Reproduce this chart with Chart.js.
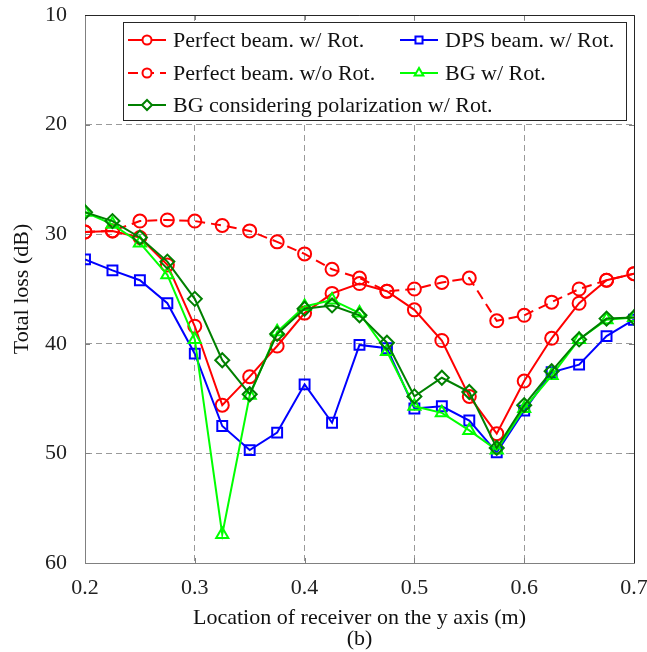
<!DOCTYPE html>
<html>
<head>
<meta charset="utf-8">
<script src="https://cdn.jsdelivr.net/npm/chart.js@4/dist/chart.umd.min.js"></script>
<style>
  html, body { margin: 0; padding: 0; background: #fff; }
  #wrap { width: 647px; height: 652px; }
</style>
</head>
<body>
<div id="wrap"><canvas id="graph"></canvas></div>
<script>
const positions = [0.2, 0.225, 0.25, 0.275, 0.3, 0.325, 0.35, 0.375, 0.4, 0.425, 0.45,
                   0.475, 0.5, 0.525, 0.55, 0.575, 0.6, 0.625, 0.65, 0.675, 0.7];
const xTicks = [0.2, 0.3, 0.4, 0.5, 0.6, 0.7];
const yTicks = [10, 20, 30, 40, 50, 60];

const perfectRot   = [29.8, 29.7, 30.3, 32.8, 38.4, 45.6, 43.0, 40.2, 37.2, 35.4, 34.5, 35.2, 36.9, 39.7, 44.8, 48.2, 43.4, 39.5, 36.3, 34.2, 33.6];
const perfectNoRot = [29.8, 29.7, 28.8, 28.7, 28.8, 29.2, 29.7, 30.7, 31.8, 33.2, 34.0, 35.2, 35.0, 34.4, 34.0, 37.9, 37.4, 36.2, 35.0, 34.2, 33.6];
const dpsRot       = [32.3, 33.3, 34.2, 36.3, 40.9, 47.5, 49.7, 48.1, 43.7, 47.2, 40.1, 40.4, 45.9, 45.7, 47.0, 49.9, 46.1, 42.6, 41.9, 39.3, 37.8];
const bgRot        = [28.0, 29.1, 30.8, 33.7, 39.6, 57.4, 44.7, 38.9, 36.6, 36.0, 37.2, 40.7, 45.7, 46.3, 47.9, 49.7, 45.9, 42.9, 39.6, 37.8, 37.6];
const bgPolRot     = [28.0, 28.8, 30.3, 32.5, 35.9, 41.5, 44.6, 39.1, 36.8, 36.5, 37.4, 39.9, 44.8, 43.1, 44.4, 49.5, 45.6, 42.5, 39.6, 37.7, 37.6];

const serif = "'Liberation Serif', 'Times New Roman', serif";
Chart.defaults.font.family = serif;
Chart.defaults.font.size = 22;
Chart.defaults.color = '#222';

function series(label, values, color, style, order, dash) {
    return {
        label: label,
        data: positions.map((x, i) => ({ x: x, y: values[i] })),
        borderColor: color,
        backgroundColor: 'rgba(0,0,0,0)',
        pointBorderColor: color,
        pointBackgroundColor: 'rgba(0,0,0,0)',
        pointStyle: style,
        pointRadius: style === 'circle' ? 6.5 : 7,
        pointBorderWidth: 2,
        borderWidth: 2,
        borderDash: dash || [],
        tension: 0,
        order: order
    };
}

// MATLAB-like frame, inward ticks and legend box inside the axes
const framePlugin = {
    id: 'frame',
    afterDraw(chart) {
        const c = chart.ctx, a = chart.chartArea;
        const xs = chart.scales.x, ys = chart.scales.y;
        c.save();
        c.lineWidth = 1;
        c.strokeStyle = '#808080';
        c.beginPath();
        xTicks.forEach(v => {
            const px = Math.round(xs.getPixelForValue(v)) + 0.5;
            c.moveTo(px, a.bottom); c.lineTo(px, a.bottom - 5);
            c.moveTo(px, a.top); c.lineTo(px, a.top + 5);
        });
        yTicks.forEach(v => {
            const py = Math.round(ys.getPixelForValue(v)) + 0.5;
            c.moveTo(a.left, py); c.lineTo(a.left + 5, py);
            c.moveTo(a.right, py); c.lineTo(a.right - 5, py);
        });
        c.stroke();
        c.strokeStyle = '#262626';
        c.beginPath();
        c.moveTo(a.left, a.top + 0.5); c.lineTo(a.right + 0.5, a.top + 0.5);
        c.lineTo(a.right + 0.5, a.bottom);
        c.stroke();

        // legend
        const bx = 123, by = 22, bw = 503, bh = 98;
        c.fillStyle = '#fff';
        c.fillRect(bx, by, bw, bh);
        c.strokeStyle = '#262626';
        c.lineWidth = 1;
        c.strokeRect(bx + 0.5, by + 0.5, bw, bh);
        const slots = [[128, 40], [128, 73], [400, 40], [400, 73], [128, 105]];
        c.font = '22px ' + serif;
        c.textBaseline = 'middle';
        chart.data.datasets.forEach((ds, k) => {
            const [lx, ly] = slots[k];
            c.strokeStyle = ds.borderColor;
            c.lineWidth = 2;
            c.setLineDash(ds.borderDash);
            c.beginPath();
            c.moveTo(lx, ly); c.lineTo(lx + 38, ly);
            c.stroke();
            c.setLineDash([]);
            c.fillStyle = '#fff';
            Chart.helpers.drawPoint(c, {
                pointStyle: ds.pointStyle, radius: ds.pointRadius - 2, borderWidth: 2, rotation: 0
            }, lx + 19, ly);
            c.fillStyle = '#111';
            c.fillText(ds.label, lx + 45, ly + 1);
        });
        c.restore();
    }
};

var ctx = document.getElementById('graph').getContext('2d');
var myGraph = new Chart(ctx, {
    type: 'line',
    data: {
        datasets: [
            series('Perfect beam. w/ Rot.', perfectRot, '#ff0000', 'circle', 4),
            series('Perfect beam. w/o Rot.', perfectNoRot, '#ff0000', 'circle', 2, [10, 6]),
            series('DPS beam. w/ Rot.', dpsRot, '#0000ff', 'rect', 3),
            series('BG w/ Rot.', bgRot, '#00ff00', 'triangle', 1),
            series('BG considering polarization w/ Rot.', bgPolRot, '#008000', 'rectRot', 0)
        ]
    },
    options: {
        responsive: true,
        maintainAspectRatio: false,
        animation: false,
        layout: {
            padding: { top: 15, right: 13, left: 0, bottom: 0 }
        },
        plugins: {
            legend: { display: false },
            title: { display: false },
            tooltip: { enabled: false }
        },
        scales: {
            x: {
                type: 'linear',
                min: 0.2,
                max: 0.7,
                afterBuildTicks: s => { s.ticks = xTicks.map(v => ({ value: v })); },
                afterFit: s => { s.height = 89; s.paddingLeft = 0; s.paddingRight = 0; },
                ticks: {
                    padding: 12,
                    color: '#222',
                    maxRotation: 0,
                    callback: v => v.toFixed(1)
                },
                grid: {
                    color: '#9a9a9a',
                    lineWidth: 1,
                    drawTicks: false
                },
                border: { display: true, color: '#808080', width: 1, dash: [6, 4] },
                title: {
                    display: true,
                    text: ['Location of receiver on the y axis (m)', '(b)'],
                    color: '#111',
                    font: { size: 22, lineHeight: 0.95 },
                    padding: { top: 0, bottom: 2 }
                }
            },
            y: {
                reverse: true,
                min: 10,
                max: 60,
                afterBuildTicks: s => { s.ticks = yTicks.map(v => ({ value: v })); },
                afterFit: s => { s.width = 85; s.paddingTop = 0; s.paddingBottom = 0; },
                ticks: {
                    padding: 18,
                    color: '#222'
                },
                grid: {
                    color: '#9a9a9a',
                    lineWidth: 1,
                    drawTicks: false
                },
                border: { display: true, color: '#808080', width: 1, dash: [6, 4] },
                title: {
                    display: true,
                    text: 'Total loss (dB)',
                    color: '#111',
                    font: { size: 22 },
                    padding: { top: 9, bottom: 0 }
                }
            }
        }
    },
    plugins: [framePlugin]
});
</script>
</body>
</html>
